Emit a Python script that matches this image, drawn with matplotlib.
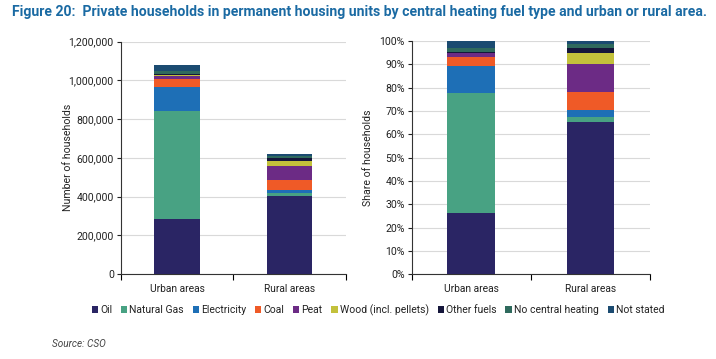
import matplotlib
matplotlib.use("Agg")
import matplotlib.pyplot as plt
from matplotlib.ticker import FuncFormatter, MultipleLocator
import numpy as np

plt.rcParams['font.family'] = ['Roboto', 'DejaVu Sans']

# === Data ===
areas = ["Urban areas", "Rural areas"]
fuels = ["Oil", "Natural Gas", "Electricity", "Coal", "Peat",
         "Wood (incl. pellets)", "Other fuels", "No central heating", "Not stated"]
urban_counts = [283000, 559000, 122000, 42000, 19000, 3000, 3000, 17000, 34000]
rural_counts = [404000, 12000, 19000, 48000, 75000, 27000, 15000, 10000, 8000]
colors = ["#2a2564", "#48a283", "#1e6fb6", "#ef5a27", "#6c2b85",
          "#c3c13b", "#15163b", "#2f6a5d", "#1b4b71"]

counts = np.array([urban_counts, rural_counts], dtype=float)  # shape (area, fuel)
shares = counts / counts.sum(axis=1, keepdims=True) * 100

title_color = "#1a6aa3"
grid_color = "#d9d9d9"
text_color = "#222222"

fig = plt.figure(figsize=(7.16, 3.59), dpi=100)
W, H = 716, 359

def px_axes(x0, y0, x1, y1):
    return fig.add_axes([x0 / W, 1 - y1 / H, (x1 - x0) / W, (y1 - y0) / H])

ax1 = px_axes(120.7, 41.7, 346, 274)
ax2 = px_axes(411.7, 41, 650, 274.3)

x = np.arange(len(areas))

def stacked(ax, data):
    bottom = np.zeros(len(areas))
    handles = []
    for i, fuel in enumerate(fuels):
        h = ax.bar(x, data[:, i], 0.4, bottom=bottom, color=colors[i], label=fuel, zorder=3)
        bottom += data[:, i]
        handles.append(h)
    return handles

handles = stacked(ax1, counts)
stacked(ax2, shares)

for ax in (ax1, ax2):
    ax.set_xlim(-0.5, 1.5)
    ax.set_xticks(x)
    ax.set_xticklabels(areas, fontsize=7.4, color=text_color)
    ax.set_xticks([-0.5, 0.5, 1.5], minor=True)
    ax.tick_params(axis='x', which='major', length=0, pad=7)
    ax.tick_params(axis='x', which='minor', length=4, width=0.8, direction='out')
    ax.tick_params(axis='y', length=3, width=0.8, direction='out', labelsize=7.6, colors=text_color, pad=2)
    ax.grid(axis='y', color=grid_color, linewidth=0.8, zorder=0)
    for s in ("top", "right"):
        ax.spines[s].set_visible(False)
    for s in ("left", "bottom"):
        ax.spines[s].set_color("#333333")
        ax.spines[s].set_linewidth(0.8)

ax1.set_ylim(0, 1200000)
ax1.yaxis.set_major_locator(MultipleLocator(200000))
ax1.yaxis.set_major_formatter(FuncFormatter(lambda v, p: f"{int(v):,}"))
ax1.set_ylabel("Number of households", fontsize=7.6, color=text_color, va='center')
ax1.yaxis.set_label_coords(-0.235, 0.5)

ax2.set_ylim(0, 100)
ax2.yaxis.set_major_locator(MultipleLocator(10))
ax2.yaxis.set_major_formatter(FuncFormatter(lambda v, p: f"{int(v)}%"))
ax2.set_ylabel("Share of households", fontsize=7.6, color=text_color, va='center')
ax2.yaxis.set_label_coords(-0.183, 0.5)

fig.text(12 / W, 1 - 12 / H,
         "Figure 20:  Private households in permanent housing units by central heating fuel type and urban or rural area.",
         fontsize=10.05, fontweight='bold', color=title_color, va='center', ha='left')

fig.legend(handles=handles, labels=fuels, loc='center', bbox_to_anchor=(378 / W, 1 - 310 / H),
           ncol=9, frameon=False, fontsize=7.5, handlelength=0.6, handleheight=0.6,
           handletextpad=0.2, columnspacing=0.85, labelcolor=text_color)

fig.text(52 / W, 1 - 344 / H, "Source: CSO", fontsize=7.2, style='italic', color="#444444",
         va='center', ha='left')

fig.savefig("out.png", dpi=100)
